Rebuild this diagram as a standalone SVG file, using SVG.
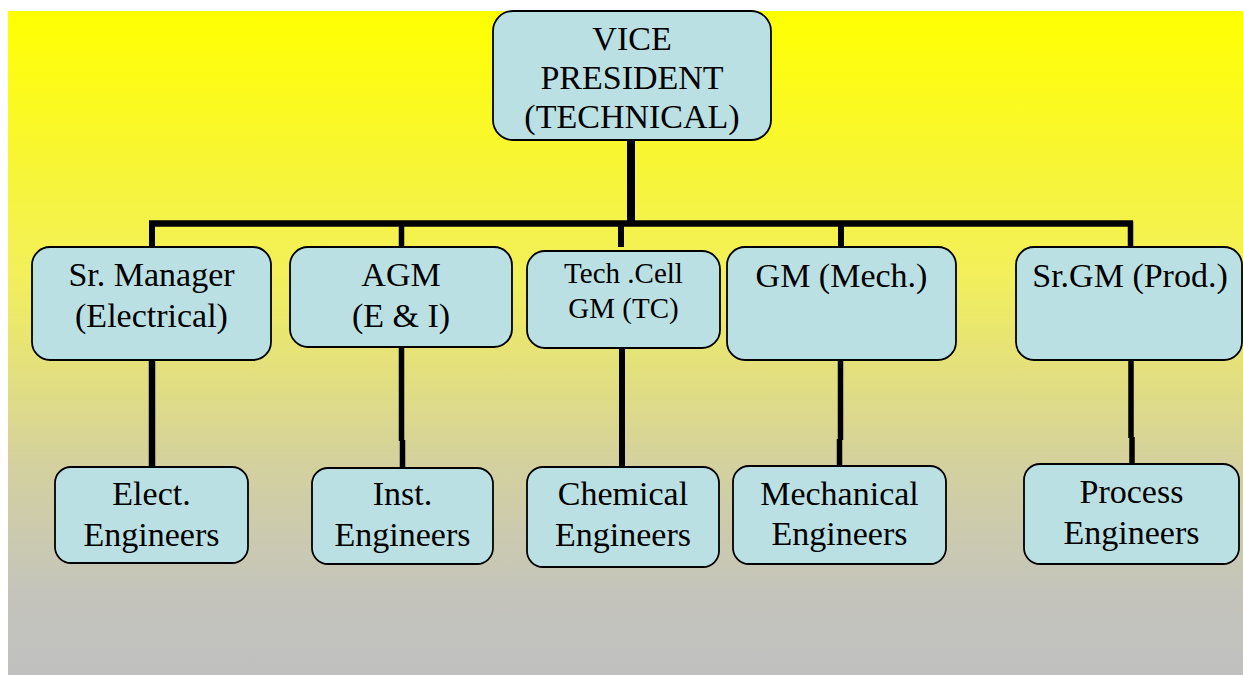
<svg xmlns="http://www.w3.org/2000/svg" width="1243" height="675" viewBox="0 0 1243 675">
<defs>
<linearGradient id="bg" x1="0" y1="0" x2="0" y2="1">
<stop offset="0" stop-color="#ffff00"/>
<stop offset="0.4" stop-color="#f2ef5c"/>
<stop offset="0.68" stop-color="#d4d19e"/>
<stop offset="0.88" stop-color="#c4c4bc"/>
<stop offset="1" stop-color="#c0c0c0"/>
</linearGradient>
<style>
.box{fill:#bae0e3;stroke:#000;stroke-width:1.8}
.t{font-family:"Liberation Serif","Times New Roman",serif;font-size:34px;fill:#000;text-anchor:middle}
.s{font-size:29px}
.c{stroke:#000;fill:none;stroke-linecap:butt}
</style>
</defs>
<rect x="0" y="0" width="1243" height="675" fill="#ffffff"/>
<rect x="8" y="11" width="1235" height="664" fill="url(#bg)"/>
<g id="connectors">
<line class="c" x1="631" y1="139" x2="631" y2="224" stroke-width="8"/>
<line class="c" x1="149" y1="223.5" x2="1133" y2="223.5" stroke-width="6.5"/>
<line class="c" x1="152" y1="221" x2="152" y2="248" stroke-width="6"/>
<line class="c" x1="401.5" y1="221" x2="401.5" y2="248" stroke-width="5.5"/>
<line class="c" x1="621" y1="221" x2="621" y2="247" stroke-width="6"/>
<line class="c" x1="841" y1="221" x2="841" y2="248" stroke-width="6"/>
<line class="c" x1="1130.5" y1="221" x2="1130.5" y2="248" stroke-width="5.5"/>
<line class="c" x1="152" y1="359" x2="152" y2="468" stroke-width="6.5"/>
<line class="c" x1="401.5" y1="346" x2="401.5" y2="441" stroke-width="5.5"/>
<line class="c" x1="402.5" y1="440" x2="402.5" y2="469" stroke-width="5.5"/>
<line class="c" x1="622" y1="347" x2="622" y2="468" stroke-width="6"/>
<line class="c" x1="840.5" y1="359" x2="840.5" y2="440" stroke-width="5.5"/>
<line class="c" x1="839.5" y1="439" x2="839.5" y2="467" stroke-width="5.5"/>
<line class="c" x1="1131" y1="359" x2="1131" y2="438" stroke-width="5.5"/>
<line class="c" x1="1132" y1="437" x2="1132" y2="465" stroke-width="5.5"/>
</g>
<g id="vp">
<rect class="box" x="493" y="11" width="278" height="129" rx="20"/>
<text class="t" x="632" y="50">VICE</text>
<text class="t" x="632" y="89">PRESIDENT</text>
<text class="t" x="632" y="128">(TECHNICAL)</text>
</g>
<g id="srmanager">
<rect class="box" x="32" y="247" width="239" height="113" rx="18"/>
<text class="t" x="151.5" y="286">Sr. Manager</text>
<text class="t" x="151.5" y="327">(Electrical)</text>
</g>
<g id="agm">
<rect class="box" x="290" y="247" width="222" height="100" rx="18"/>
<text class="t" x="401" y="286">AGM</text>
<text class="t" x="401" y="327">(E &amp; I)</text>
</g>
<g id="techcell">
<rect class="box" x="527" y="251" width="193" height="97" rx="18"/>
<text class="t s" x="623.5" y="283">Tech .Cell</text>
<text class="t s" x="623.5" y="318">GM (TC)</text>
</g>
<g id="gmmech">
<rect class="box" x="727" y="247" width="229" height="113" rx="18"/>
<text class="t" x="841.5" y="287">GM (Mech.)</text>
</g>
<g id="srgm">
<rect class="box" x="1016" y="247" width="226" height="113" rx="18"/>
<text class="t" x="1130" y="287">Sr.GM (Prod.)</text>
</g>
<g id="elect">
<rect class="box" x="55" y="467" width="193" height="96" rx="16"/>
<text class="t" x="151.5" y="505">Elect.</text>
<text class="t" x="151.5" y="546">Engineers</text>
</g>
<g id="inst">
<rect class="box" x="312" y="468" width="181" height="96" rx="16"/>
<text class="t" x="402.5" y="505">Inst.</text>
<text class="t" x="402.5" y="546">Engineers</text>
</g>
<g id="chemical">
<rect class="box" x="527" y="467" width="192" height="100" rx="16"/>
<text class="t" x="623" y="505">Chemical</text>
<text class="t" x="623" y="546">Engineers</text>
</g>
<g id="mechanical">
<rect class="box" x="733" y="466" width="213" height="98" rx="16"/>
<text class="t" x="839.5" y="505">Mechanical</text>
<text class="t" x="839.5" y="545">Engineers</text>
</g>
<g id="process">
<rect class="box" x="1024" y="464" width="215" height="100" rx="16"/>
<text class="t" x="1131.5" y="503">Process</text>
<text class="t" x="1131.5" y="544">Engineers</text>
</g>
</svg>
